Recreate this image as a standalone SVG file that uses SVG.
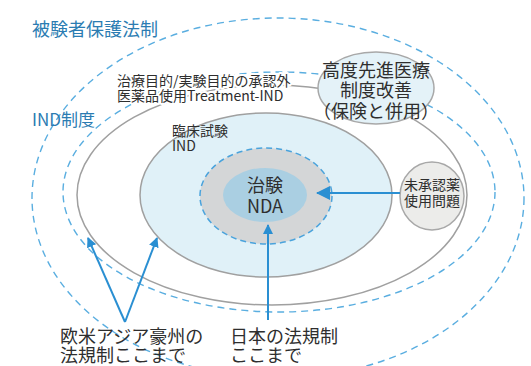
<svg xmlns="http://www.w3.org/2000/svg" width="531" height="366" viewBox="0 0 531 366">
<style>
.dash{fill:none;stroke:#5aaee0;stroke-width:1.4;stroke-dasharray:7 5}
.gray{stroke:#a0a0a0;stroke-width:1.5}
.t{font-family:"Noto Sans CJK JP","Noto Sans",sans-serif;fill:#2e2e2e}
.tb{font-family:"Noto Sans CJK JP","Noto Sans",sans-serif;fill:#2b7cb2}
.halo{paint-order:stroke;stroke:#ffffff;stroke-width:4;stroke-linejoin:round}
.arr{stroke:#2a8fd2;stroke-width:2;fill:none}
</style>
<defs>
<marker id="ah" markerWidth="10" markerHeight="10" refX="9" refY="5" orient="auto" markerUnits="userSpaceOnUse" viewBox="0 0 10 10">
<path d="M0,0 L10,5 L0,10 Z" fill="#2a8fd2"/>
</marker>
<marker id="ahl" markerWidth="14" markerHeight="14" refX="13" refY="7" orient="auto" markerUnits="userSpaceOnUse" viewBox="0 0 14 14">
<path d="M0,0 L14,7 L0,14 Z" fill="#2a8fd2"/>
</marker>
</defs>
<rect width="531" height="366" fill="#ffffff"/>

<g id="subject-protection">
<ellipse class="dash" cx="278" cy="198" rx="246" ry="180"/>
<text class="tb" x="32" y="36" font-size="18">被験者保護法制</text>
</g>

<g id="ind-system">
<ellipse class="dash" cx="279" cy="192" rx="216" ry="120"/>
<text class="tb" x="32" y="126" font-size="17">IND制度</text>
</g>

<g id="treatment-ind">
<ellipse class="gray" cx="272" cy="195" rx="195" ry="110" fill="none"/>
<text class="t halo" x="117" y="86" font-size="14">治療目的/実験目的の承認外</text>
<text class="t halo" x="117" y="101" font-size="14">医薬品使用Treatment-IND</text>
</g>

<g id="clinical-trial-ind">
<ellipse class="gray" cx="266" cy="195" rx="126" ry="82" fill="#e0f1f8"/>
<text class="t" x="172" y="136" font-size="14">臨床試験</text>
<text class="t" x="172" y="151" font-size="14">IND</text>
</g>

<g id="nda-ring">
<ellipse cx="266" cy="196" rx="66" ry="48" fill="#d4d6d7" stroke="#4aa3dc" stroke-width="1.5" stroke-dasharray="6 4"/>
</g>

<g id="nda">
<ellipse cx="265" cy="195" rx="42" ry="27" fill="#aacfe2"/>
<text class="t" x="265" y="192" font-size="18" text-anchor="middle">治験</text>
<text class="t" x="265" y="213" font-size="18" text-anchor="middle">NDA</text>
</g>

<g id="advanced-medicine">
<ellipse cx="376" cy="88" rx="58" ry="36" fill="#e4f2f8" stroke="#a8a8a8" stroke-width="1.5"/>
<text class="t" x="376" y="77" font-size="18" text-anchor="middle">高度先進医療</text>
<text class="t" x="376" y="97" font-size="18" text-anchor="middle">制度改善</text>
<text class="t" x="376" y="118" font-size="18" text-anchor="middle">（保険と併用）</text>
</g>

<g id="unapproved-drug">
<ellipse cx="432" cy="196" rx="32" ry="34" fill="#ececea" stroke="#a8a8a8" stroke-width="1.5"/>
<text class="t" x="432" y="190" font-size="14" text-anchor="middle">未承認薬</text>
<text class="t" x="432" y="206" font-size="14" text-anchor="middle">使用問題</text>
</g>

<g id="label-western">
<text class="t" x="60" y="343" font-size="18">欧米アジア豪州の</text>
<text class="t" x="60" y="362" font-size="18">法規制ここまで</text>
</g>

<g id="label-japan">
<text class="t" x="230" y="343" font-size="18">日本の法規制</text>
<text class="t" x="230" y="362" font-size="18">ここまで</text>
</g>

<g id="connectors">
<line class="arr" x1="125" y1="322" x2="88" y2="238" marker-end="url(#ah)"/>
<line class="arr" x1="125" y1="322" x2="157" y2="238" marker-end="url(#ah)"/>
<line class="arr" x1="268" y1="320" x2="268" y2="225" marker-end="url(#ah)"/>
<line class="arr" x1="400" y1="193" x2="317" y2="193" stroke-width="2.5" marker-end="url(#ahl)"/>
</g>
</svg>
